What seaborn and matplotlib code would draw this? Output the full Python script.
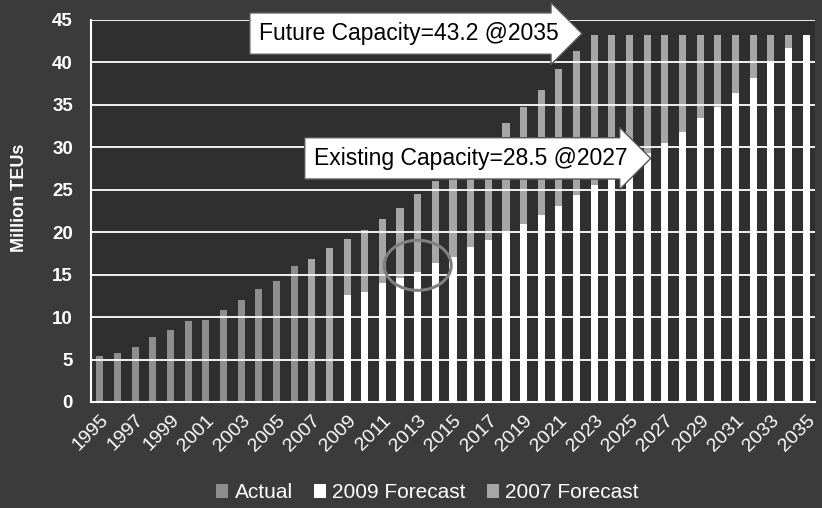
import matplotlib
matplotlib.use("Agg")
import matplotlib.pyplot as plt
import seaborn as sns
import pandas as pd
from matplotlib.patches import Ellipse, Patch

# ---------------- data ----------------
years = list(range(1995, 2036))

actual_years = list(range(1995, 2007))
actual = [5.4, 5.8, 6.5, 7.6, 8.5, 9.6, 9.7, 10.8, 12.0, 13.3, 14.2, 16.0]

f2007_years = list(range(2007, 2036))
forecast_2007 = [16.9, 18.1, 19.2, 20.3, 21.6, 22.9, 24.5, 26.0, 27.4, 29.2,
                 31.1, 32.9, 34.8, 36.8, 39.2, 41.3, 43.2, 43.2, 43.2, 43.2,
                 43.2, 43.2, 43.2, 43.2, 43.2, 43.2, 43.2, 43.2, 43.2]

f2009_years = list(range(2009, 2036))
forecast_2009 = [12.6, 13.0, 14.0, 14.6, 15.3, 16.4, 17.1, 18.3, 19.1, 20.1,
                 21.0, 22.0, 23.1, 24.4, 25.6, 26.7, 27.9, 29.3, 30.5, 31.8,
                 33.4, 34.8, 36.4, 38.2, 40.1, 41.7, 43.2]

series_names = ["Actual", "2009 Forecast", "2007 Forecast"]
draw_order = ["Actual", "2007 Forecast", "2009 Forecast"]
colors = {"Actual": "#8e8e8e", "2007 Forecast": "#a6a6a6", "2009 Forecast": "#ffffff"}

future_label = "Future Capacity=43.2 @2035"
future_pos = (2012.5, 43.4)
existing_label = "Existing Capacity=28.5 @2027"
existing_pos = (2016.0, 28.7)
circle_center = (2013, 16.1)

# ---------------- build table ----------------
rows = []
for y, v in zip(actual_years, actual):
    rows.append((str(y), v, "Actual"))
for y, v in zip(f2007_years, forecast_2007):
    rows.append((str(y), v, "2007 Forecast"))
for y, v in zip(f2009_years, forecast_2009):
    rows.append((str(y), v, "2009 Forecast"))
df = pd.DataFrame(rows, columns=["year", "value", "series"])

# ---------------- plot ----------------
sns.set_theme(style="dark")
plt.rcParams["font.family"] = ["Liberation Sans", "DejaVu Sans"]

fig = plt.figure(figsize=(8.22, 5.08), dpi=100)
fig.patch.set_facecolor("#3b3b3b")
ax = fig.add_axes([91 / 822, 1 - 402 / 508, (815 - 91) / 822, (402 - 20) / 508])
ax.set_facecolor("#2f2f2f")

order = [str(y) for y in years]
sns.barplot(data=df, x="year", y="value", hue="series", order=order,
            hue_order=draw_order, palette=colors, dodge=False, width=0.4,
            saturation=1, errorbar=None, linewidth=0, legend=False, ax=ax)

ax.set_ylim(0, 45)
ax.set_yticks(range(0, 46, 5))
ax.set_axisbelow(False)
ax.yaxis.grid(True, color="white", linewidth=1.3)
ax.xaxis.grid(False)
for s in ["top", "right"]:
    ax.spines[s].set_visible(False)
for s in ["left", "bottom"]:
    ax.spines[s].set_color("white")
    ax.spines[s].set_linewidth(1.5)

ax.tick_params(axis="y", length=0, pad=13, labelcolor="white", labelsize=13.5)
for t in ax.get_yticklabels():
    t.set_fontweight("bold")

idx = list(range(len(years)))[::2]
ax.set_xticks(idx)
ax.set_xticklabels([str(years[i]) for i in idx], rotation=45, ha="right",
                   rotation_mode="anchor", color="white", fontsize=14)
ax.tick_params(axis="x", length=0, pad=7)
ax.set_xlabel("")
ax.set_ylabel("")

fig.text(20 / 822, 1 - 198 / 508, "Million TEUs", rotation=90, color="white",
         fontsize=13, fontweight="bold", ha="center", va="center")

# annotations
box = dict(boxstyle="rarrow,pad=0.4", fc="white", ec="#555555", lw=1)
ax.text(future_pos[0] - years[0], future_pos[1], future_label, fontsize=16.5,
        color="black", ha="center", va="center", bbox=box, zorder=10)
ax.text(existing_pos[0] - years[0], existing_pos[1], existing_label, fontsize=16.5,
        color="black", ha="center", va="center", bbox=box, zorder=10)

ax.add_patch(Ellipse((circle_center[0] - years[0], circle_center[1]), 3.8, 5.9,
                     fill=False, ec="#808080", lw=2.2, zorder=9))

handles = [Patch(facecolor=colors[n], edgecolor="none") for n in series_names]
fig.legend(handles, series_names, loc="center", bbox_to_anchor=(0.52, 0.03),
           ncol=3, frameon=False, fontsize=15, labelcolor="white",
           handlelength=0.6, handleheight=0.6, handletextpad=0.3,
           columnspacing=1.0)

fig.savefig("out.png", dpi=100, facecolor=fig.get_facecolor())
